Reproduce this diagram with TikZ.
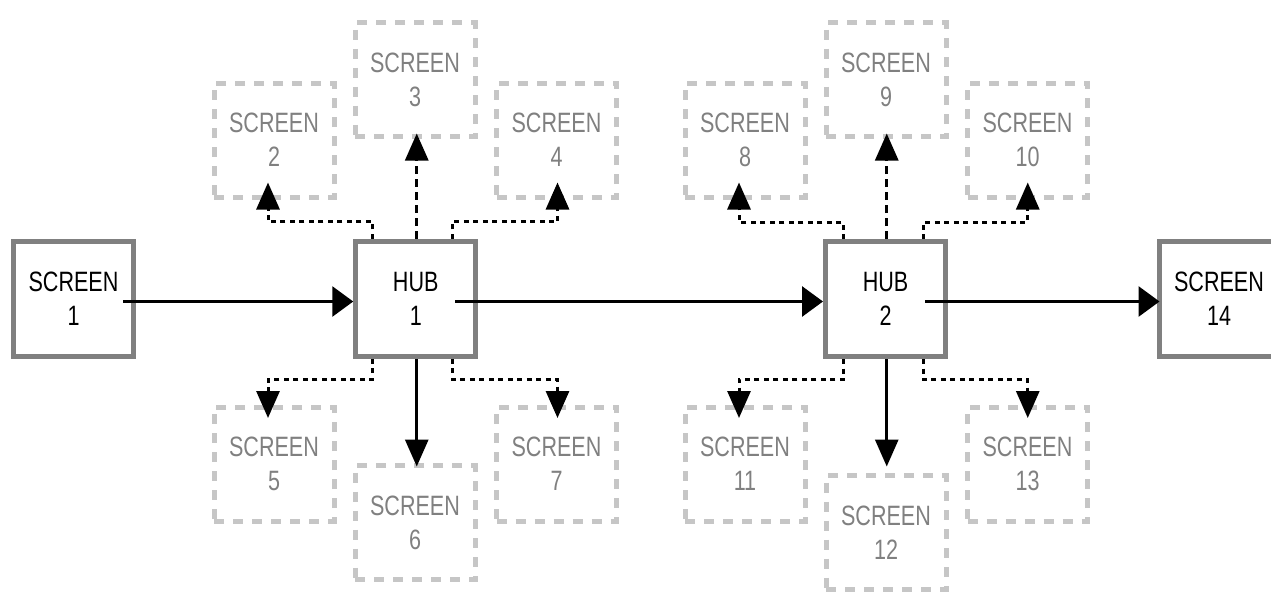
\documentclass[tikz,border=0pt]{standalone}
\usepackage{fontspec}
\newfontfamily\narrowsans[FakeStretch=0.77]{Liberation Sans}
\usetikzlibrary{arrows.meta,calc}
\definecolor{boxgray}{HTML}{808080}
\definecolor{satgray}{HTML}{C6C6C6}
\definecolor{sattext}{HTML}{808080}
\begin{document}
\begin{tikzpicture}[x=1pt,y=-1pt,
  every node/.style={font={\narrowsans\fontsize{28}{34}\selectfont}, align=center},
  mainbox/.style={draw=boxgray, line width=5pt, fill=white, minimum width=120pt, minimum height=115pt, inner sep=0pt},
  satbox/.style={draw=satgray, line width=5pt, dash pattern=on 10pt off 9pt, minimum width=120pt, minimum height=114pt, inner sep=0pt, text=sattext},
  harrow/.style={line width=3pt, -{Triangle[length=21pt,width=30pt]}},
  varrow/.style={line width=3pt, -{Triangle[length=27pt,width=23pt]}},
  dotarrow/.style={varrow, dash pattern=on 5pt off 4.5pt},
  dasharrow/.style={varrow, dash pattern=on 8pt off 5pt},
]
\useasboundingbox (0,0) rectangle (1271,592);
% main row
\node[mainbox] (S1) at (73.5,298.5) {SCREEN\\1};
\node[mainbox] (H1) at (415.75,298.75) {HUB\\1};
\node[mainbox] (H2) at (885.5,299) {HUB\\2};
\node[mainbox] (S14) at (1219,299) {SCREEN\\14};
% satellites of hub 1
\node[satbox] (S2) at (274,140) {SCREEN\\2};
\node[satbox] (S3) at (415,79.5) {SCREEN\\3};
\node[satbox] (S4) at (556.5,140) {SCREEN\\4};
\node[satbox] (S5) at (274,464) {SCREEN\\5};
\node[satbox] (S6) at (415,522.5) {SCREEN\\6};
\node[satbox] (S7) at (556.5,464) {SCREEN\\7};
% satellites of hub 2
\node[satbox] (S8) at (745,140) {SCREEN\\8};
\node[satbox] (S9) at (886,79.5) {SCREEN\\9};
\node[satbox] (S10) at (1027.5,140) {SCREEN\\10};
\node[satbox] (S11) at (745,464) {SCREEN\\11};
\node[satbox] (S12) at (886,532.5) {SCREEN\\12};
\node[satbox] (S13) at (1027.5,464) {SCREEN\\13};
% main flow
\draw[harrow] ($(S1.center)+(49.5,3)$) -- ($(H1.west)+(0,2.75)$);
\draw[harrow] ($(H1.center)+(39.25,2.75)$) -- ($(H2.west)+(0,2.5)$);
\draw[harrow] ($(H2.center)+(39.5,2.5)$) -- ($(S14.west)+(3,2.5)$);
% hub 1 up
\draw[dotarrow] ($(H1.north)+(-43,0)$) -- ++(0,-17) -| ($(S2.south)+(-6,-17)$);
\draw[dasharrow] ($(H1.north)+(1,0)$) -- ($(S3.south)+(1.75,-5.5)$);
\draw[dotarrow] ($(H1.north)+(36.5,0)$) -- ++(0,-17) -| ($(S4.south)+(1,-17)$);
% hub 1 down
\draw[dotarrow] ($(H1.south)+(-43,0)$) -- ++(0,20.5) -| ($(S5.north)+(-6,13.5)$);
\draw[varrow] ($(H1.south)+(1,0)$) -- ($(S6.north)+(1.75,3.5)$);
\draw[dotarrow] ($(H1.south)+(36.5,0)$) -- ++(0,20.5) -| ($(S7.north)+(1,13.5)$);
% hub 2 up
\draw[dotarrow] ($(H2.north)+(-42.25,0)$) -- ++(0,-17) -| ($(S8.south)+(-6,-17)$);
\draw[dasharrow] ($(H2.north)+(1.25,0)$) -- ($(S9.south)+(0.75,-5.5)$);
\draw[dotarrow] ($(H2.north)+(37.75,0)$) -- ++(0,-17) -| ($(S10.south)+(0.25,-17)$);
% hub 2 down
\draw[dotarrow] ($(H2.south)+(-42.25,0)$) -- ++(0,20.5) -| ($(S11.north)+(-6,13.5)$);
\draw[varrow] ($(H2.south)+(1.25,0)$) -- ($(S12.north)+(0.75,-6.5)$);
\draw[dotarrow] ($(H2.south)+(37.75,0)$) -- ++(0,20.5) -| ($(S13.north)+(0.25,13.5)$);
\end{tikzpicture}
\end{document}
